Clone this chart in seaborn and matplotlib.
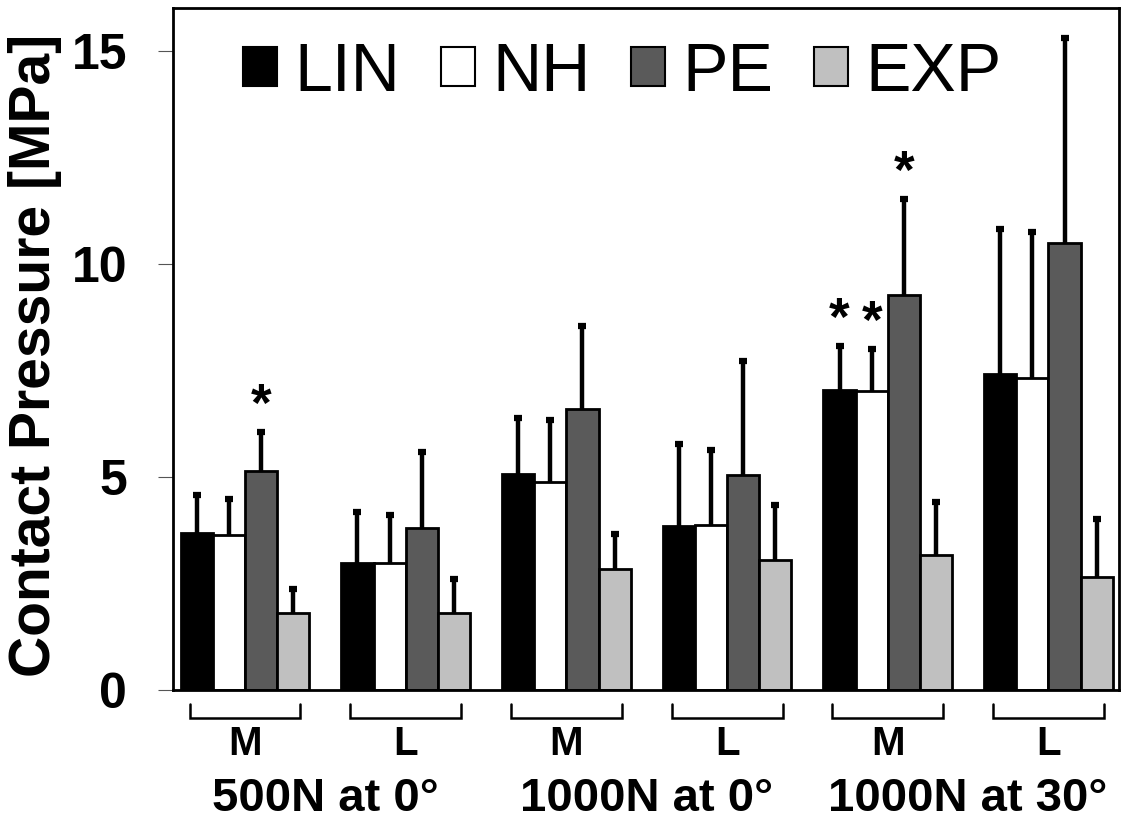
import numpy as np
import pandas as pd
import matplotlib
matplotlib.use("Agg")
import matplotlib.pyplot as plt
import seaborn as sns
from matplotlib.transforms import blended_transform_factory

# ---- data ----
groups = ["G1", "G2", "G3", "G4", "G5", "G6"]
side_labels = ["M", "L", "M", "L", "M", "L"]
load_labels = ["500N at 0°", "1000N at 0°", "1000N at 30°"]
models = ["LIN", "NH", "PE", "EXP"]

lin_mean = [3.69, 2.98, 5.06, 3.84, 7.03, 7.41]
lin_err = [0.88, 1.20, 1.32, 1.92, 1.03, 3.40]
nh_mean = [3.63, 2.98, 4.88, 3.86, 7.01, 7.33]
nh_err = [0.86, 1.12, 1.45, 1.78, 1.00, 3.42]
pe_mean = [5.14, 3.79, 6.60, 5.04, 9.26, 10.49]
pe_err = [0.91, 1.80, 1.93, 2.67, 2.27, 4.81]
exp_mean = [1.80, 1.80, 2.84, 3.06, 3.17, 2.65]
exp_err = [0.58, 0.80, 0.83, 1.29, 1.23, 1.36]

# significance stars (per model, per group)
lin_star = [0, 0, 0, 0, 1, 0]
nh_star = [0, 0, 0, 0, 1, 0]
pe_star = [1, 0, 0, 0, 1, 0]
exp_star = [0, 0, 0, 0, 0, 0]

yticks = [0, 5, 10, 15]

colors = {"LIN": "#000000", "NH": "#ffffff", "PE": "#5a5a5a", "EXP": "#c0c0c0"}

means = {"LIN": lin_mean, "NH": nh_mean, "PE": pe_mean, "EXP": exp_mean}
errs = {"LIN": lin_err, "NH": nh_err, "PE": pe_err, "EXP": exp_err}
stars = {"LIN": lin_star, "NH": nh_star, "PE": pe_star, "EXP": exp_star}

rows = []
for m in models:
    for g, v in zip(groups, means[m]):
        rows.append({"group": g, "model": m, "value": v})
df = pd.DataFrame(rows)

sns.set_style("white")
plt.rcParams["font.family"] = ["Liberation Sans", "DejaVu Sans"]
plt.rcParams["text.color"] = "black"
plt.rcParams["axes.labelcolor"] = "black"
plt.rcParams["ytick.color"] = "black"

fig = plt.figure(figsize=(11.25, 8.22), dpi=100)
ax = fig.add_axes([173 / 1125, 1 - 690 / 822, (1119 - 173) / 1125, (690 - 8) / 822])

sns.barplot(data=df, x="group", y="value", hue="model", order=groups,
            hue_order=models, palette=colors, edgecolor="black", linewidth=2,
            width=0.8, errorbar=None, ax=ax, saturation=1)

# error bars (upper only) and stars
for m, cont in zip(models, ax.containers):
    xs = np.array([b.get_x() + b.get_width() / 2 for b in cont])
    hs = np.array([b.get_height() for b in cont])
    e = np.array(errs[m])
    ax.vlines(xs, hs, hs + e, colors="black", linewidth=3.2, zorder=1)
    ax.plot(xs, hs + e, linestyle="none", marker="_", markersize=6,
            markeredgewidth=4.5, color="black", zorder=1)
    for x, h, ee, s in zip(xs, hs, e, stars[m]):
        if s:
            ax.annotate("*", (x, h + ee), xytext=(0, 0), textcoords="offset points",
                        ha="center", va="bottom", fontsize=38, fontweight="bold")

ax.set_ylim(0, 16)
ax.set_xlim(-0.448, 5.439)
ax.set_yticks(yticks)
ax.set_yticklabels([str(t) for t in yticks], fontsize=36, fontweight="bold")
ax.tick_params(axis="y", direction="out", length=11, width=0.8, color="#555555",
               labelcolor="black", pad=22, left=True)
ax.set_xticks([])
ax.set_xlabel("")
ax.set_ylabel("")
for sp in ax.spines.values():
    sp.set_visible(True)
    sp.set_color("black")
    sp.set_linewidth(2)

fig.text(35 / 1125, 1 - 355 / 822, "Contact Pressure [MPa]", rotation=90,
         ha="center", va="center", fontsize=41, fontweight="bold", color="black")

# brackets and labels under axis
trans = blended_transform_factory(ax.transData, ax.transAxes)
y_top = -14 / 682
y_bot = -28 / 682
for i, lab in enumerate(side_labels):
    x0, x1 = i - 0.345, i + 0.345
    ax.plot([x0, x0, x1, x1], [y_top, y_bot, y_bot, y_top], color="black",
            lw=1.8, transform=trans, clip_on=False, solid_joinstyle="miter")
    ax.text(i, -54 / 682, lab, transform=trans, ha="center", va="center",
            fontsize=29, fontweight="bold", color="black")
for j, lab in enumerate(load_labels):
    ax.text(2 * j + 0.5, -121 / 682, lab, transform=trans, ha="center",
            va="baseline", fontsize=34, fontweight="bold", color="black")

# legend
leg = ax.legend(loc="upper center", bbox_to_anchor=(0.475, 1.012), ncol=4,
                frameon=False, fontsize=49, handlelength=0.5, handleheight=0.5,
                handletextpad=0.25, columnspacing=0.6, borderaxespad=0.2)
for h in leg.legend_handles:
    h.set_edgecolor("black")
    h.set_linewidth(1.5)
for t in leg.get_texts():
    t.set_color("black")

fig.savefig("out.png", dpi=100)
